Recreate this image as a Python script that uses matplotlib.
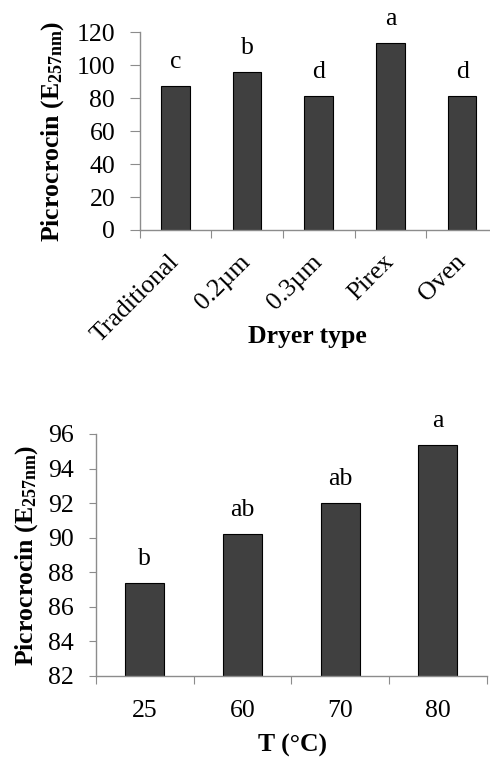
import matplotlib
matplotlib.use('Agg')
import matplotlib.pyplot as plt
import matplotlib.transforms as mtransforms
import numpy as np

plt.rcParams['font.family'] = ['Liberation Serif', 'DejaVu Serif']
plt.rcParams['mathtext.default'] = 'regular'

dryers = ['Traditional', '0.2\u00b5m', '0.3\u00b5m', 'Pirex', 'Oven']
dryer_vals = [87.4, 95.9, 81.3, 113.3, 81.3]
dryer_letters = ['c', 'b', 'd', 'a', 'd']

temps = ['25', '60', '70', '80']
temp_vals = [87.4, 90.2, 92.0, 95.35]
temp_letters = ['b', 'ab', 'ab', 'a']

bar_color = '#404040'
axis_color = '#8c8c8c'
ylab = r'Picrocrocin (E$_{257nm}$)'
fs = 18.5

W, H = 490, 758
fig = plt.figure(figsize=(W / 100, H / 100), dpi=100)


def px_axes(left, right, top, bottom):
    return fig.add_axes([left / W, (H - bottom) / H, (right - left) / W, (bottom - top) / H])


def style(ax, n, ytick_len, ypad):
    for s in ['top', 'right']:
        ax.spines[s].set_visible(False)
    for s in ['left', 'bottom']:
        ax.spines[s].set_color(axis_color)
        ax.spines[s].set_linewidth(1.0)
    ax.set_xlim(-0.5, n - 0.5)
    ax.set_xticks(np.arange(n + 1) - 0.5)
    ax.set_xticklabels([])
    ax.tick_params(axis='x', which='major', length=6, color=axis_color, direction='out')
    ax.tick_params(axis='y', length=ytick_len, color=axis_color, labelsize=fs, pad=ypad)


def letters(ax, vals, labs):
    for i, (v, l) in enumerate(zip(vals, labs)):
        ax.annotate(l, (i, v), xytext=(0, 13), textcoords='offset points',
                    ha='center', va='baseline', fontsize=fs)


# top panel: dryer type
ax1 = px_axes(139.5, 498, 32.3, 230)
x1 = np.arange(len(dryers))
ax1.bar(x1, dryer_vals, width=0.4, color=bar_color, edgecolor='black', linewidth=0.8)
style(ax1, len(dryers), 7.5, 10)
ax1.set_ylim(0, 120)
ax1.set_yticks(np.arange(0, 121, 20))
ax1.set_xticks(x1, minor=True)
ax1.set_xticklabels(dryers, minor=True, rotation=45, ha='right', fontsize=fs)
ax1.tick_params(axis='x', which='minor', length=0, pad=15)
off = mtransforms.ScaledTranslation(8 / 100, 0, fig.dpi_scale_trans)
for t in ax1.xaxis.get_minorticklabels():
    t.set_transform(t.get_transform() + off)
letters(ax1, dryer_vals, dryer_letters)
ax1.set_ylabel(ylab, fontsize=fs, fontweight='bold', va='center')
ax1.yaxis.set_label_coords(-(139.5 - 53) / (498 - 139.5), 0.5)
ax1.set_xlabel('Dryer type', fontsize=fs, fontweight='bold', va='center')
ax1.xaxis.set_label_coords((307 - 139.5) / (498 - 139.5), -(337 - 230) / (230 - 32.3))

# bottom panel: temperature
ax2 = px_axes(96, 486.7, 434, 676)
x2 = np.arange(len(temps))
ax2.bar(x2, temp_vals, width=0.4, color=bar_color, edgecolor='black', linewidth=0.8)
style(ax2, len(temps), 5, 11)
ax2.set_ylim(82, 96)
ax2.set_yticks(np.arange(82, 97, 2))
ax2.set_xticks(x2, minor=True)
ax2.set_xticklabels(temps, minor=True, fontsize=fs)
ax2.tick_params(axis='x', which='minor', length=0, pad=17)
letters(ax2, temp_vals, temp_letters)
ax2.set_ylabel(ylab, fontsize=fs, fontweight='bold', va='center')
ax2.yaxis.set_label_coords(-(96 - 27) / (486.7 - 96), 0.5)
ax2.set_xlabel('T (\u00b0C)', fontsize=fs, fontweight='bold', va='center')
ax2.xaxis.set_label_coords((292 - 96) / (486.7 - 96), -(745 - 676) / (676 - 434))

fig.savefig('out.png', dpi=100)
